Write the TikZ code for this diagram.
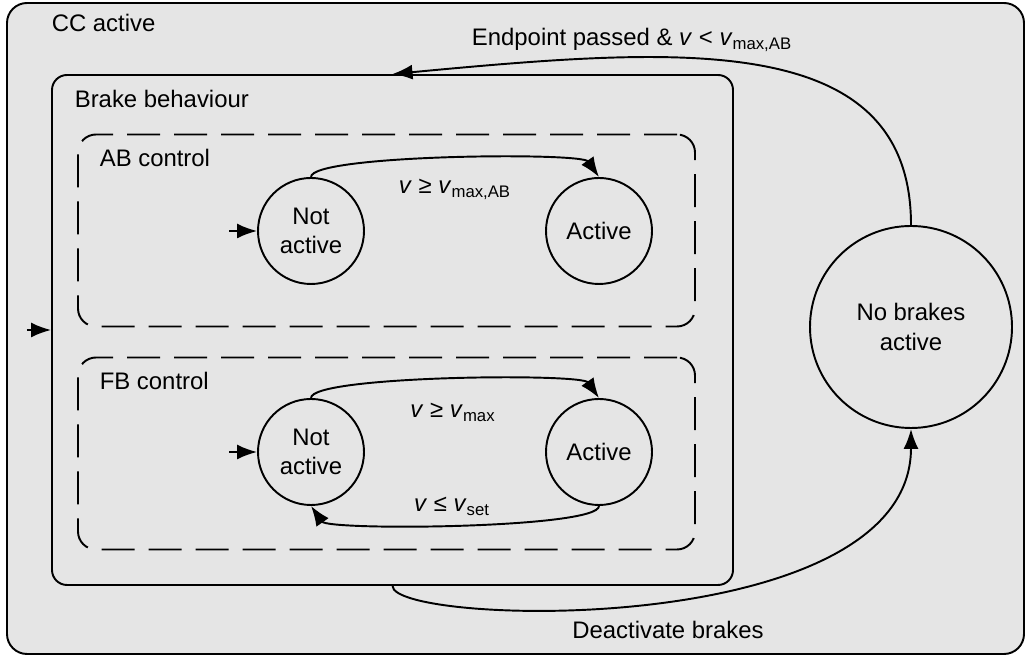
\documentclass[tikz,border=0pt]{standalone}
\usepackage{fontspec}
\setmainfont{Liberation Sans}
\usetikzlibrary{calc}
\usetikzlibrary{arrows.meta}

\begin{document}
\begin{tikzpicture}[
  line width=1.1pt,
  every node/.style={font=\fontsize{13.6}{16.8}\selectfont},
  brakestate/.style={draw, circle, fill=gray!20, minimum size=2.12cm, inner sep=0pt, align=center},
  ctlbox/.style={draw, dash pattern=on 0.66cm off 0.28cm, rounded corners=0.36cm, minimum width=12.34cm, minimum height=3.84cm},
  trans/.style={-{Latex[length=4mm,width=3mm]}}
]
\useasboundingbox (0,0) rectangle (20.58,13.14);

\node[draw, rounded corners=0.4cm, fill=gray!20, minimum width=20.34cm, minimum height=13.02cm] (cc) at (10.31,6.57) {};
\node[anchor=base west] (cclabel) at (0.9,12.5) {CC active};

\node[draw, rounded corners=0.3cm, fill=gray!20, minimum width=13.62cm, minimum height=10.2cm] (brake) at (7.85,6.54) {};
\node[anchor=base west] (brakelabel) at (1.36,10.99) {Brake behaviour};

% AB control
\node[ctlbox] (abctl) at (7.73,8.53) {};
\node[anchor=base west] (ablabel) at (1.86,9.81) {AB control};
\node[brakestate] (abidle) at (6.22,8.52) {Not\\active};
\node[brakestate] (abon) at (11.98,8.52) {Active};
\coordinate (abinit) at (4.58,8.52);

% FB control
\node[ctlbox] (fbctl) at (7.73,4.07) {};
\node[anchor=base west] (fblabel) at (1.86,5.35) {FB control};
\node[brakestate] (fbidle) at (6.22,4.1) {Not\\active};
\node[brakestate] (fbon) at (11.98,4.1) {Active};
\coordinate (fbinit) at (4.58,4.1);

\node[brakestate, minimum size=4.04cm] (nobrake) at (18.22,6.6) {No brakes\\active};
\coordinate (entry) at (0.54,6.54);

\draw[trans] (entry) -- (brake.west);
\draw[trans] (abinit) -- (abidle);
\draw[trans] (fbinit) -- (fbidle);

\draw[trans] (abidle.north) .. controls +(0,0.45) and +(-0.35,0.5) .. (abon.north);
\node[anchor=base] (abup) at (9.1,9.27) {\textit{v} ≥ \textit{v}\textsubscript{max,AB}};

\draw[trans] (fbidle.north) .. controls +(0,0.45) and +(-0.35,0.5) .. (fbon.north);
\node[anchor=base] (fbup) at (9.06,4.79) {\textit{v} ≥ \textit{v}\textsubscript{max}};
\draw[trans] (fbon.south) .. controls +(0,-0.45) and +(0.35,-0.5) .. (fbidle.south);
\node[anchor=base] (fbdown) at (9.04,2.91) {\textit{v} ≤ \textit{v}\textsubscript{set}};

\draw[trans] (nobrake.north) .. controls +(0,3.92) and +(5.74,0.54) .. (brake.north);
\node[anchor=base] (endlabel) at (12.64,12.23) {Endpoint passed \& \textit{v} < \textit{v}\textsubscript{max,AB}};

\draw[trans] (brake.south) .. controls +(0,-0.8) and +(0,-4.24) .. (nobrake.south);
\node[anchor=base] (offlabel) at (13.36,0.37) {Deactivate brakes};
\end{tikzpicture}
\end{document}
